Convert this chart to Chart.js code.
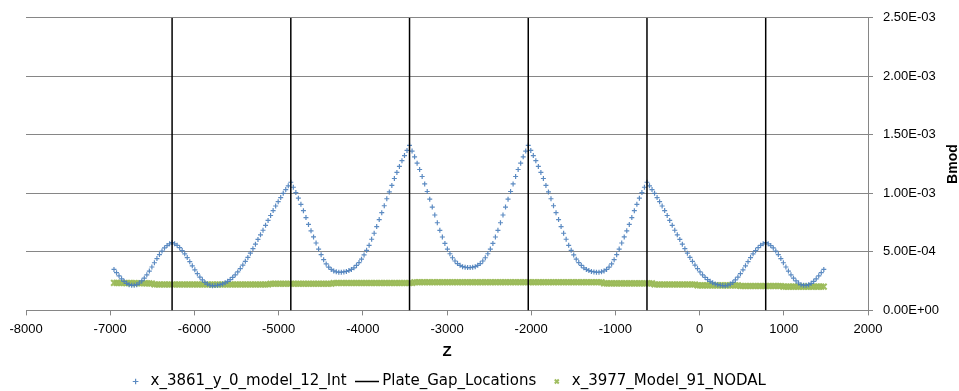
<!DOCTYPE html>
<html>
<head>
<meta charset="utf-8">
<script src="https://cdn.jsdelivr.net/npm/chart.js@4.4.0/dist/chart.umd.min.js"></script>
<style>
  html, body { margin: 0; padding: 0; background: #fff; }
  #wrap { position: relative; width: 959px; height: 391px; }
</style>
</head>
<body>
<div id="wrap"><canvas id="chart"></canvas></div>
<script>
  'use strict';

  // Z positions of the samples (shared by both measured series)
  var zValues = [
    -6955, -6925, -6895, -6865, -6835, -6805, -6775, -6745, -6715, -6685,
    -6655, -6625, -6595, -6565, -6535, -6505, -6475, -6445, -6415, -6385,
    -6355, -6325, -6295, -6265, -6235, -6205, -6175, -6145, -6115, -6085,
    -6055, -6025, -5995, -5965, -5935, -5905, -5875, -5845, -5815, -5785,
    -5755, -5725, -5695, -5665, -5635, -5605, -5575, -5545, -5515, -5485,
    -5455, -5425, -5395, -5365, -5335, -5305, -5275, -5245, -5215, -5185,
    -5155, -5125, -5095, -5065, -5035, -5005, -4975, -4945, -4915, -4885,
    -4855, -4825, -4795, -4765, -4735, -4705, -4675, -4645, -4615, -4585,
    -4555, -4525, -4495, -4465, -4435, -4405, -4375, -4345, -4315, -4285,
    -4255, -4225, -4195, -4165, -4135, -4105, -4075, -4045, -4015, -3985,
    -3955, -3925, -3895, -3865, -3835, -3805, -3775, -3745, -3715, -3685,
    -3655, -3625, -3595, -3565, -3535, -3505, -3475, -3445, -3415, -3385,
    -3355, -3325, -3295, -3265, -3235, -3205, -3175, -3145, -3115, -3085,
    -3055, -3025, -2995, -2965, -2935, -2905, -2875, -2845, -2815, -2785,
    -2755, -2725, -2695, -2665, -2635, -2605, -2575, -2545, -2515, -2485,
    -2455, -2425, -2395, -2365, -2335, -2305, -2275, -2245, -2215, -2185,
    -2155, -2125, -2095, -2065, -2035, -2005, -1975, -1945, -1915, -1885,
    -1855, -1825, -1795, -1765, -1735, -1705, -1675, -1645, -1615, -1585,
    -1555, -1525, -1495, -1465, -1435, -1405, -1375, -1345, -1315, -1285,
    -1255, -1225, -1195, -1165, -1135, -1105, -1075, -1045, -1015, -985,
    -955, -925, -895, -865, -835, -805, -775, -745, -715, -685,
    -655, -625, -595, -565, -535, -505, -475, -445, -415, -385,
    -355, -325, -295, -265, -235, -205, -175, -145, -115, -85,
    -55, -25, 5, 35, 65, 95, 125, 155, 185, 215,
    245, 275, 305, 335, 365, 395, 425, 455, 485, 515,
    545, 575, 605, 635, 665, 695, 725, 755, 785, 815,
    845, 875, 905, 935, 965, 995, 1025, 1055, 1085, 1115,
    1145, 1175, 1205, 1235, 1265, 1295, 1325, 1355, 1385, 1415,
    1445, 1475
  ];

  // x_3861_y_0_model_12_Int
  var bmodInt = [
    3.50e-4, 3.22e-4, 2.95e-4, 2.70e-4, 2.48e-4, 2.31e-4, 2.20e-4, 2.14e-4, 2.15e-4, 2.20e-4,
    2.34e-4, 2.52e-4, 2.75e-4, 3.04e-4, 3.36e-4, 3.71e-4, 4.07e-4, 4.43e-4, 4.77e-4, 5.07e-4,
    5.34e-4, 5.54e-4, 5.69e-4, 5.80e-4, 5.69e-4, 5.56e-4, 5.36e-4, 5.11e-4, 4.83e-4, 4.51e-4,
    4.16e-4, 3.81e-4, 3.47e-4, 3.14e-4, 2.85e-4, 2.61e-4, 2.39e-4, 2.25e-4, 2.15e-4, 2.10e-4,
    2.12e-4, 2.15e-4, 2.20e-4, 2.26e-4, 2.36e-4, 2.48e-4, 2.63e-4, 2.82e-4, 3.04e-4, 3.29e-4,
    3.57e-4, 3.87e-4, 4.19e-4, 4.53e-4, 4.89e-4, 5.27e-4, 5.66e-4, 6.06e-4, 6.46e-4, 6.85e-4,
    7.27e-4, 7.69e-4, 8.11e-4, 8.53e-4, 8.92e-4, 9.29e-4, 9.64e-4, 1.000e-3, 1.032e-3, 1.064e-3,
    1.095e-3, 1.052e-3, 1.007e-3, 9.59e-4, 9.06e-4, 8.52e-4, 7.93e-4, 7.35e-4, 6.80e-4, 6.28e-4,
    5.76e-4, 5.24e-4, 4.76e-4, 4.33e-4, 3.97e-4, 3.70e-4, 3.50e-4, 3.37e-4, 3.30e-4, 3.26e-4,
    3.27e-4, 3.29e-4, 3.33e-4, 3.40e-4, 3.50e-4, 3.64e-4, 3.84e-4, 4.09e-4, 4.38e-4, 4.74e-4,
    5.13e-4, 5.56e-4, 6.08e-4, 6.59e-4, 7.16e-4, 7.76e-4, 8.35e-4, 8.94e-4, 9.54e-4, 1.012e-3,
    1.068e-3, 1.127e-3, 1.179e-3, 1.230e-3, 1.279e-3, 1.323e-3, 1.367e-3, 1.410e-3, 1.361e-3, 1.312e-3,
    1.258e-3, 1.204e-3, 1.144e-3, 1.081e-3, 1.016e-3, 9.50e-4, 8.83e-4, 8.15e-4, 7.49e-4, 6.84e-4,
    6.27e-4, 5.72e-4, 5.24e-4, 4.84e-4, 4.50e-4, 4.22e-4, 4.00e-4, 3.85e-4, 3.74e-4, 3.69e-4,
    3.66e-4, 3.66e-4, 3.69e-4, 3.74e-4, 3.85e-4, 4.00e-4, 4.22e-4, 4.50e-4, 4.84e-4, 5.24e-4,
    5.72e-4, 6.27e-4, 6.84e-4, 7.49e-4, 8.15e-4, 8.83e-4, 9.50e-4, 1.016e-3, 1.081e-3, 1.144e-3,
    1.204e-3, 1.258e-3, 1.312e-3, 1.361e-3, 1.410e-3, 1.367e-3, 1.323e-3, 1.279e-3, 1.230e-3, 1.179e-3,
    1.127e-3, 1.068e-3, 1.012e-3, 9.54e-4, 8.94e-4, 8.35e-4, 7.76e-4, 7.16e-4, 6.59e-4, 6.08e-4,
    5.56e-4, 5.13e-4, 4.74e-4, 4.38e-4, 4.09e-4, 3.84e-4, 3.64e-4, 3.50e-4, 3.40e-4, 3.33e-4,
    3.29e-4, 3.27e-4, 3.26e-4, 3.30e-4, 3.37e-4, 3.50e-4, 3.70e-4, 3.97e-4, 4.33e-4, 4.76e-4,
    5.24e-4, 5.76e-4, 6.28e-4, 6.80e-4, 7.35e-4, 7.93e-4, 8.52e-4, 9.06e-4, 9.59e-4, 1.007e-3,
    1.052e-3, 1.095e-3, 1.064e-3, 1.032e-3, 1.000e-3, 9.64e-4, 9.29e-4, 8.92e-4, 8.53e-4, 8.11e-4,
    7.69e-4, 7.27e-4, 6.85e-4, 6.46e-4, 6.06e-4, 5.66e-4, 5.27e-4, 4.89e-4, 4.53e-4, 4.19e-4,
    3.87e-4, 3.57e-4, 3.29e-4, 3.04e-4, 2.82e-4, 2.63e-4, 2.48e-4, 2.36e-4, 2.26e-4, 2.20e-4,
    2.15e-4, 2.12e-4, 2.10e-4, 2.15e-4, 2.25e-4, 2.39e-4, 2.61e-4, 2.85e-4, 3.14e-4, 3.47e-4,
    3.81e-4, 4.16e-4, 4.51e-4, 4.83e-4, 5.11e-4, 5.36e-4, 5.56e-4, 5.69e-4, 5.80e-4, 5.69e-4,
    5.54e-4, 5.34e-4, 5.07e-4, 4.77e-4, 4.43e-4, 4.07e-4, 3.71e-4, 3.36e-4, 3.04e-4, 2.75e-4,
    2.52e-4, 2.34e-4, 2.20e-4, 2.15e-4, 2.14e-4, 2.20e-4, 2.31e-4, 2.48e-4, 2.70e-4, 2.95e-4,
    3.22e-4, 3.50e-4
  ];

  // x_3977_Model_91_NODAL
  var bmodNodal = [
    2.35e-4, 2.35e-4, 2.34e-4, 2.34e-4, 2.34e-4, 2.33e-4, 2.33e-4, 2.33e-4, 2.33e-4, 2.32e-4,
    2.32e-4, 2.32e-4, 2.32e-4, 2.31e-4, 2.31e-4, 2.30e-4, 2.22e-4, 2.22e-4, 2.22e-4, 2.22e-4,
    2.22e-4, 2.22e-4, 2.22e-4, 2.22e-4, 2.22e-4, 2.22e-4, 2.22e-4, 2.22e-4, 2.22e-4, 2.22e-4,
    2.22e-4, 2.22e-4, 2.22e-4, 2.22e-4, 2.22e-4, 2.22e-4, 2.22e-4, 2.22e-4, 2.22e-4, 2.22e-4,
    2.22e-4, 2.22e-4, 2.22e-4, 2.22e-4, 2.22e-4, 2.22e-4, 2.22e-4, 2.22e-4, 2.22e-4, 2.22e-4,
    2.22e-4, 2.22e-4, 2.22e-4, 2.22e-4, 2.22e-4, 2.22e-4, 2.22e-4, 2.22e-4, 2.22e-4, 2.22e-4,
    2.22e-4, 2.22e-4, 2.28e-4, 2.28e-4, 2.28e-4, 2.28e-4, 2.28e-4, 2.28e-4, 2.28e-4, 2.28e-4,
    2.28e-4, 2.28e-4, 2.28e-4, 2.28e-4, 2.28e-4, 2.28e-4, 2.28e-4, 2.28e-4, 2.28e-4, 2.28e-4,
    2.28e-4, 2.28e-4, 2.28e-4, 2.28e-4, 2.28e-4, 2.28e-4, 2.28e-4, 2.34e-4, 2.34e-4, 2.34e-4,
    2.34e-4, 2.34e-4, 2.34e-4, 2.34e-4, 2.34e-4, 2.34e-4, 2.34e-4, 2.34e-4, 2.34e-4, 2.34e-4,
    2.34e-4, 2.34e-4, 2.34e-4, 2.34e-4, 2.34e-4, 2.34e-4, 2.34e-4, 2.34e-4, 2.34e-4, 2.34e-4,
    2.34e-4, 2.34e-4, 2.34e-4, 2.34e-4, 2.34e-4, 2.34e-4, 2.34e-4, 2.34e-4, 2.34e-4, 2.41e-4,
    2.41e-4, 2.41e-4, 2.41e-4, 2.41e-4, 2.41e-4, 2.41e-4, 2.41e-4, 2.41e-4, 2.41e-4, 2.41e-4,
    2.41e-4, 2.41e-4, 2.41e-4, 2.41e-4, 2.41e-4, 2.41e-4, 2.41e-4, 2.41e-4, 2.41e-4, 2.41e-4,
    2.41e-4, 2.41e-4, 2.41e-4, 2.41e-4, 2.41e-4, 2.41e-4, 2.41e-4, 2.41e-4, 2.41e-4, 2.41e-4,
    2.41e-4, 2.41e-4, 2.41e-4, 2.41e-4, 2.41e-4, 2.41e-4, 2.41e-4, 2.41e-4, 2.41e-4, 2.41e-4,
    2.41e-4, 2.41e-4, 2.41e-4, 2.41e-4, 2.41e-4, 2.41e-4, 2.41e-4, 2.41e-4, 2.41e-4, 2.41e-4,
    2.41e-4, 2.41e-4, 2.41e-4, 2.41e-4, 2.41e-4, 2.41e-4, 2.41e-4, 2.41e-4, 2.41e-4, 2.41e-4,
    2.41e-4, 2.41e-4, 2.41e-4, 2.41e-4, 2.41e-4, 2.41e-4, 2.41e-4, 2.41e-4, 2.41e-4, 2.41e-4,
    2.41e-4, 2.41e-4, 2.41e-4, 2.41e-4, 2.31e-4, 2.31e-4, 2.31e-4, 2.31e-4, 2.31e-4, 2.31e-4,
    2.31e-4, 2.31e-4, 2.31e-4, 2.31e-4, 2.31e-4, 2.31e-4, 2.31e-4, 2.31e-4, 2.31e-4, 2.31e-4,
    2.31e-4, 2.31e-4, 2.31e-4, 2.31e-4, 2.22e-4, 2.22e-4, 2.22e-4, 2.22e-4, 2.22e-4, 2.22e-4,
    2.22e-4, 2.22e-4, 2.22e-4, 2.22e-4, 2.22e-4, 2.22e-4, 2.22e-4, 2.22e-4, 2.22e-4, 2.22e-4,
    2.22e-4, 2.14e-4, 2.14e-4, 2.14e-4, 2.14e-4, 2.14e-4, 2.14e-4, 2.14e-4, 2.14e-4, 2.14e-4,
    2.14e-4, 2.14e-4, 2.14e-4, 2.14e-4, 2.14e-4, 2.14e-4, 2.14e-4, 2.14e-4, 2.08e-4, 2.08e-4,
    2.08e-4, 2.08e-4, 2.08e-4, 2.08e-4, 2.08e-4, 2.08e-4, 2.08e-4, 2.08e-4, 2.08e-4, 2.08e-4,
    2.08e-4, 2.08e-4, 2.08e-4, 2.08e-4, 2.08e-4, 2.03e-4, 2.03e-4, 2.03e-4, 2.03e-4, 2.03e-4,
    2.03e-4, 2.03e-4, 2.03e-4, 2.03e-4, 2.03e-4, 2.03e-4, 2.03e-4, 2.03e-4, 2.03e-4, 2.03e-4,
    2.03e-4, 2.03e-4
  ];

  // Plate_Gap_Locations: vertical lines at these Z, spanning the full Bmod range
  var gapLocations = [-6265, -4855, -3445, -2035, -625, 785];
  var gapBottom = 0;
  var gapTop = 2.5e-3;

  var seriesNames = ['x_3861_y_0_model_12_Int', 'Plate_Gap_Locations', 'x_3977_Model_91_NODAL'];
  var xTitle = 'Z';
  var yTitle = 'Bmod';

  function toPoints(xs, ys) {
    var pts = [];
    for (var i = 0; i < xs.length; i++) {
      pts.push({ x: xs[i], y: ys[i] });
    }
    return pts;
  }

  function gapPoints() {
    var pts = [];
    for (var i = 0; i < gapLocations.length; i++) {
      pts.push({ x: gapLocations[i], y: gapBottom });
      pts.push({ x: gapLocations[i], y: gapTop });
      pts.push({ x: gapLocations[i], y: null });
    }
    return pts;
  }

  function formatSci(value) {
    if (value === 0) return '0.00E+00';
    var exp = Math.floor(Math.log10(Math.abs(value)) + 1e-9);
    var mant = value / Math.pow(10, exp);
    var e = Math.abs(exp);
    return mant.toFixed(2) + 'E' + (exp < 0 ? '-' : '+') + (e < 10 ? '0' + e : e);
  }

  // short horizontal stroke used as the legend symbol of the gap lines
  var gapIcon = document.createElement('canvas');
  gapIcon.width = 24;
  gapIcon.height = 3;
  (function () {
    var g = gapIcon.getContext('2d');
    g.strokeStyle = '#000';
    g.lineWidth = 1.5;
    g.beginPath();
    g.moveTo(0, 1.5);
    g.lineTo(24, 1.5);
    g.stroke();
  })();

  var rightTitlePlugin = {
    id: 'rightTitle',
    afterDraw: function (chart) {
      var ctx = chart.ctx;
      var area = chart.chartArea;
      ctx.save();
      ctx.translate(chart.scales.y.right - 6, (area.top + area.bottom) / 2);
      ctx.rotate(-Math.PI / 2);
      ctx.font = 'bold 14px "Liberation Sans"';
      ctx.fillStyle = '#000';
      ctx.textAlign = 'center';
      ctx.textBaseline = 'middle';
      ctx.fillText(yTitle, 0, 0);
      ctx.restore();
    }
  };

  var tickFont = { family: 'Liberation Sans', size: 13 };
  var axisGray = '#868686';

  new Chart(document.getElementById('chart'), {
    type: 'scatter',
    data: {
      datasets: [
        {
          label: seriesNames[0],
          data: toPoints(zValues, bmodInt),
          pointStyle: 'cross',
          pointRadius: 2.5,
          pointBorderWidth: 1.2,
          borderColor: 'rgba(74,126,187,0.9)',
          backgroundColor: 'rgba(74,126,187,0.9)',
          order: 1
        },
        {
          label: seriesNames[1],
          data: gapPoints(),
          showLine: true,
          spanGaps: false,
          borderColor: '#000',
          borderWidth: 1.5,
          pointRadius: 0,
          pointBorderWidth: 1.5,
          order: 0
        },
        {
          label: seriesNames[2],
          data: toPoints(zValues, bmodNodal),
          pointStyle: 'crossRot',
          pointRadius: 4,
          pointBorderWidth: 2,
          borderColor: 'rgba(155,187,89,0.95)',
          backgroundColor: 'rgba(155,187,89,0.95)',
          order: 2
        }
      ]
    },
    options: {
      responsive: true,
      maintainAspectRatio: false,
      animation: false,
      devicePixelRatio: 1,
      layout: { padding: { top: 17, left: 26, right: 0, bottom: -8 } },
      plugins: {
        tooltip: { enabled: false },
        legend: {
          position: 'bottom',
          fullSize: false,
          labels: {
            usePointStyle: true,
            boxHeight: 4,
            padding: 13,
            color: '#000',
            font: { family: 'DejaVu Sans', size: 15 },
            sort: function (a, b) { return a.datasetIndex - b.datasetIndex; },
            generateLabels: function (chart) {
              var items = Chart.defaults.plugins.legend.labels.generateLabels(chart);
              items.forEach(function (item) {
                if (item.datasetIndex === 1) item.pointStyle = gapIcon;
              });
              return items;
            }
          }
        }
      },
      scales: {
        x: {
          type: 'linear',
          position: 'bottom',
          min: -8000,
          max: 2000,
          ticks: {
            stepSize: 1000,
            autoSkip: false,
            maxRotation: 0,
            padding: 6,
            color: '#000',
            font: tickFont,
            callback: function (v) { return String(v); }
          },
          grid: { drawOnChartArea: false, drawTicks: true, tickLength: 5, color: axisGray },
          border: { display: true, color: axisGray, width: 1 },
          title: {
            display: true,
            text: xTitle,
            color: '#000',
            font: { family: 'Liberation Sans', size: 15, weight: 'bold' },
            padding: { top: 0, bottom: 0 }
          }
        },
        y: {
          type: 'linear',
          position: 'right',
          min: 0,
          max: 2.5e-3,
          ticks: {
            stepSize: 5e-4,
            padding: 10,
            color: '#000',
            font: tickFont,
            callback: formatSci
          },
          grid: { color: axisGray, drawTicks: true, tickLength: 5 },
          border: { display: true, color: axisGray, width: 1 },
          afterFit: function (scale) { scale.width = 91; }
        }
      }
    },
    plugins: [rightTitlePlugin]
  });
</script>
</body>
</html>
